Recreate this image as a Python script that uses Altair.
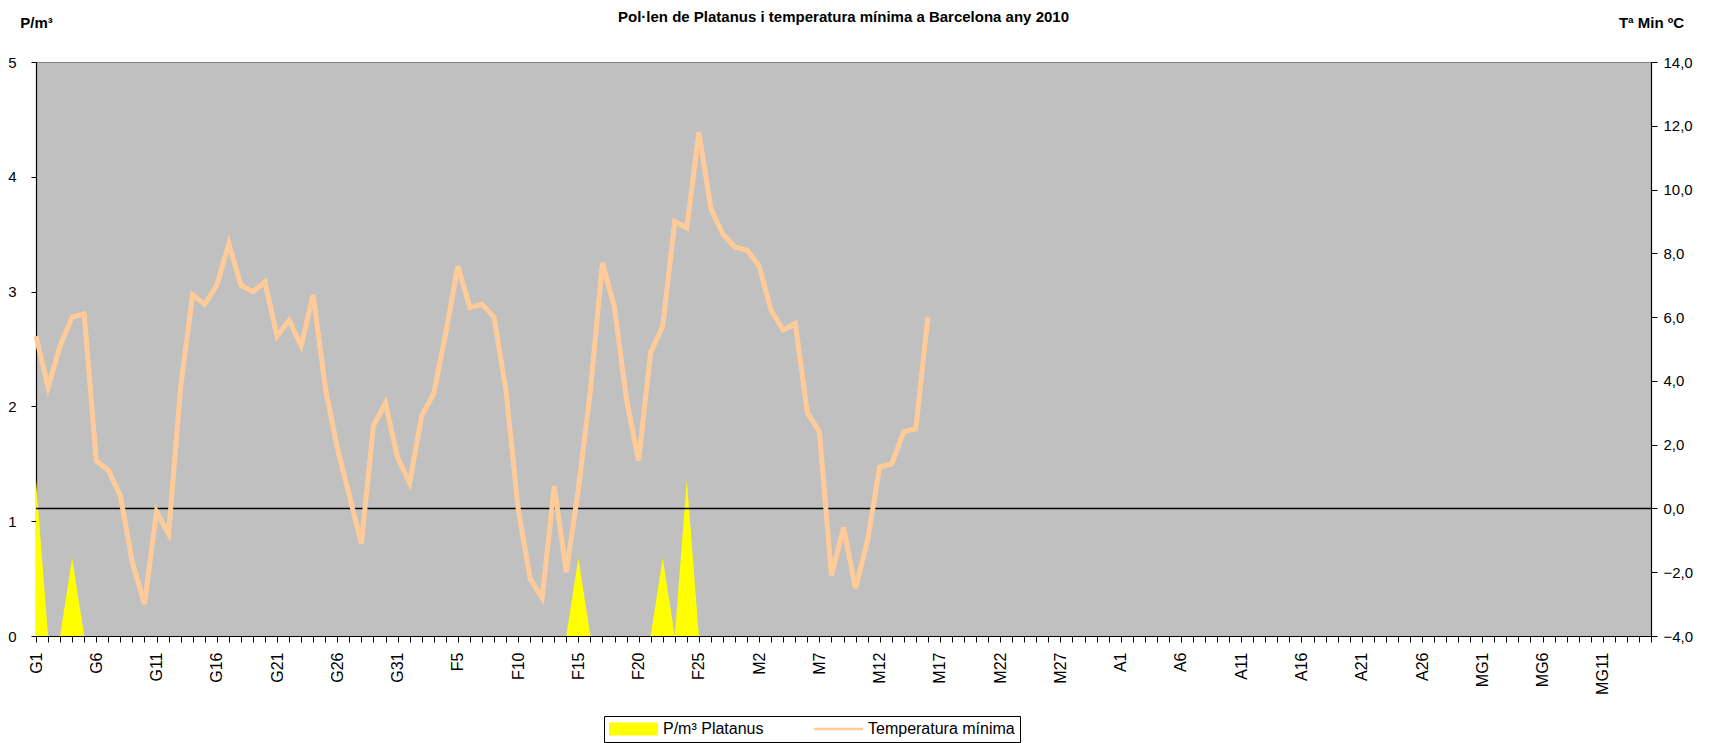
import altair as alt
import pandas as pd

FONT = "Liberation Sans"

# ---- categories (day labels, non-leap year) ----
month_codes = ["G", "F", "M", "A", "MG"]
month_lengths = [31, 28, 31, 30, 15]
days = [f"{m}{d}" for m, n in zip(month_codes, month_lengths) for d in range(1, n + 1)]
tick_labels = days[::5]

# ---- series ----
temp_min = [5.4, 3.8, 5.1, 6.0, 6.1, 1.5, 1.2, 0.4, -1.7, -3.0,
            -0.1, -0.8, 3.8, 6.7, 6.4, 7.0, 8.3, 7.0, 6.8, 7.1,
            5.4, 5.9, 5.1, 6.7, 3.8, 1.9, 0.4, -1.1, 2.6, 3.3,
            1.6, 0.8, 2.9, 3.6, 5.5, 7.6, 6.3, 6.4, 6.0, 3.7,
            0.0, -2.2, -2.8, 0.7, -2.0, 0.6, 3.7, 7.7, 6.3, 3.4,
            1.5, 4.9, 5.7, 9.0, 8.8, 11.8, 9.4, 8.6, 8.2, 8.1,
            7.6, 6.2, 5.6, 5.8, 3.0, 2.4, -2.1, -0.6, -2.5, -1.0,
            1.3, 1.4, 2.4, 2.5, 6.0]
pollen_days = ["G1", "G4", "F15", "F22", "F24"]
pollen_vals = [1.36, 0.68, 0.68, 0.68, 1.36]

series_names = ["P/m³ Platanus", "Temperatura mínima"]
series_colors = ["#FFFF00", "#FFCC99"]
left_ticks = [0, 1, 2, 3, 4, 5]
right_ticks = [-4, -2, 0, 2, 4, 6, 8, 10, 12, 14]
zero_line = [0.0]

title_text = "Pol·len de Platanus i temperatura mínima a Barcelona any 2010"

n = len(temp_min)
pmap = dict(zip(pollen_days, pollen_vals))
df = pd.DataFrame({
    "day": days[:n],
    "temp": temp_min,
    "pollen": [pmap.get(d, 0.0) for d in days[:n]],
})
zero_df = pd.DataFrame({"temp": zero_line})

label_list = ",".join(f"'{t}'" for t in tick_labels)
x_enc = alt.X(
    "day:N", sort=days,
    scale=alt.Scale(type="point", padding=0, domain=days),
    axis=alt.Axis(title=None, labelAngle=-90, labelAlign="right", labelBaseline="middle",
                  labelExpr=f"indexof([{label_list}], datum.value) >= 0 ? datum.value : ''",
                  labelOverlap=False, labelFontSize=16, labelPadding=10, tickSize=6,
                  labelFlush=False),
)

legend = alt.Legend(
    orient="none", legendX=568, legendY=654, direction="horizontal", title=None,
    symbolType={"expr": "datum.value == 'P/m³ Platanus' ? 'M-1,-0.27H1V0.27H-1Z' : 'M-1,-0.05H1V0.05H-1Z'"},
    symbolSize=2400, clipHeight=16, symbolStrokeWidth=0, symbolOpacity=1,
    labelFontSize=16, labelFont=FONT, labelColor="black", labelOffset=5,
    columnPadding=50, padding=5, strokeColor="black", fillColor="white",
)
color_scale = alt.Scale(domain=series_names, range=series_colors)

temp_scale = alt.Scale(domain=[-4, 14], nice=False)
temp_axis = alt.Axis(orient="right", values=right_ticks, tickSize=6, labelPadding=6,
                     labelFontSize=15,
                     labelExpr="replace(format(datum.value, '.1f'), '.', ',')",
                     title="Tª Min ºC", titleAngle=0, titleX=0, titleY=-40,
                     titleAlign="center", titleBaseline="middle",
                     titleFontWeight="bold", titleFontSize=15)

area = alt.Chart(df).transform_calculate(
    series=f"'{series_names[0]}'"
).mark_area(opacity=1).encode(
    x=x_enc,
    y=alt.Y("pollen:Q", scale=alt.Scale(domain=[0, 5], nice=False),
            axis=alt.Axis(orient="left", values=left_ticks, format="d", tickSize=5,
                          labelPadding=15, labelFontSize=15,
                          title="P/m³", titleAngle=0, titleX=0, titleY=-40,
                          titleAlign="center", titleBaseline="middle",
                          titleFontWeight="bold", titleFontSize=15)),
    color=alt.Color("series:N", scale=color_scale, legend=legend),
)

rule = alt.Chart(zero_df).mark_rule(color="black", strokeWidth=1.5).encode(
    y=alt.Y("temp:Q", scale=temp_scale, axis=temp_axis)
)

line = alt.Chart(df).transform_calculate(
    series=f"'{series_names[1]}'"
).mark_line(strokeWidth=5).encode(
    x=x_enc,
    y=alt.Y("temp:Q", scale=temp_scale, axis=temp_axis),
    color=alt.Color("series:N", scale=color_scale, legend=legend),
)

chart = alt.layer(area, alt.layer(rule, line)).resolve_scale(
    y="independent"
).properties(
    width=1615, height=574,
    padding={"left": 28, "top": 54, "right": 52, "bottom": 107},
    autosize=alt.AutoSizeParams(type="none"),
    title=alt.TitleParams(title_text, fontSize=15, fontWeight="bold", anchor="middle",
                          frame="group", offset=-25, baseline="bottom", color="black",
                          font=FONT),
).configure(font=FONT).configure_view(
    fill="#C0C0C0", stroke="#808080", strokeWidth=1
).configure_axis(
    grid=False, domainColor="black", tickColor="black", labelColor="black",
    titleColor="black", labelFont=FONT, titleFont=FONT, domainWidth=1.2
)

chart.save("out.html", embed_options={"renderer": "svg", "actions": False})
